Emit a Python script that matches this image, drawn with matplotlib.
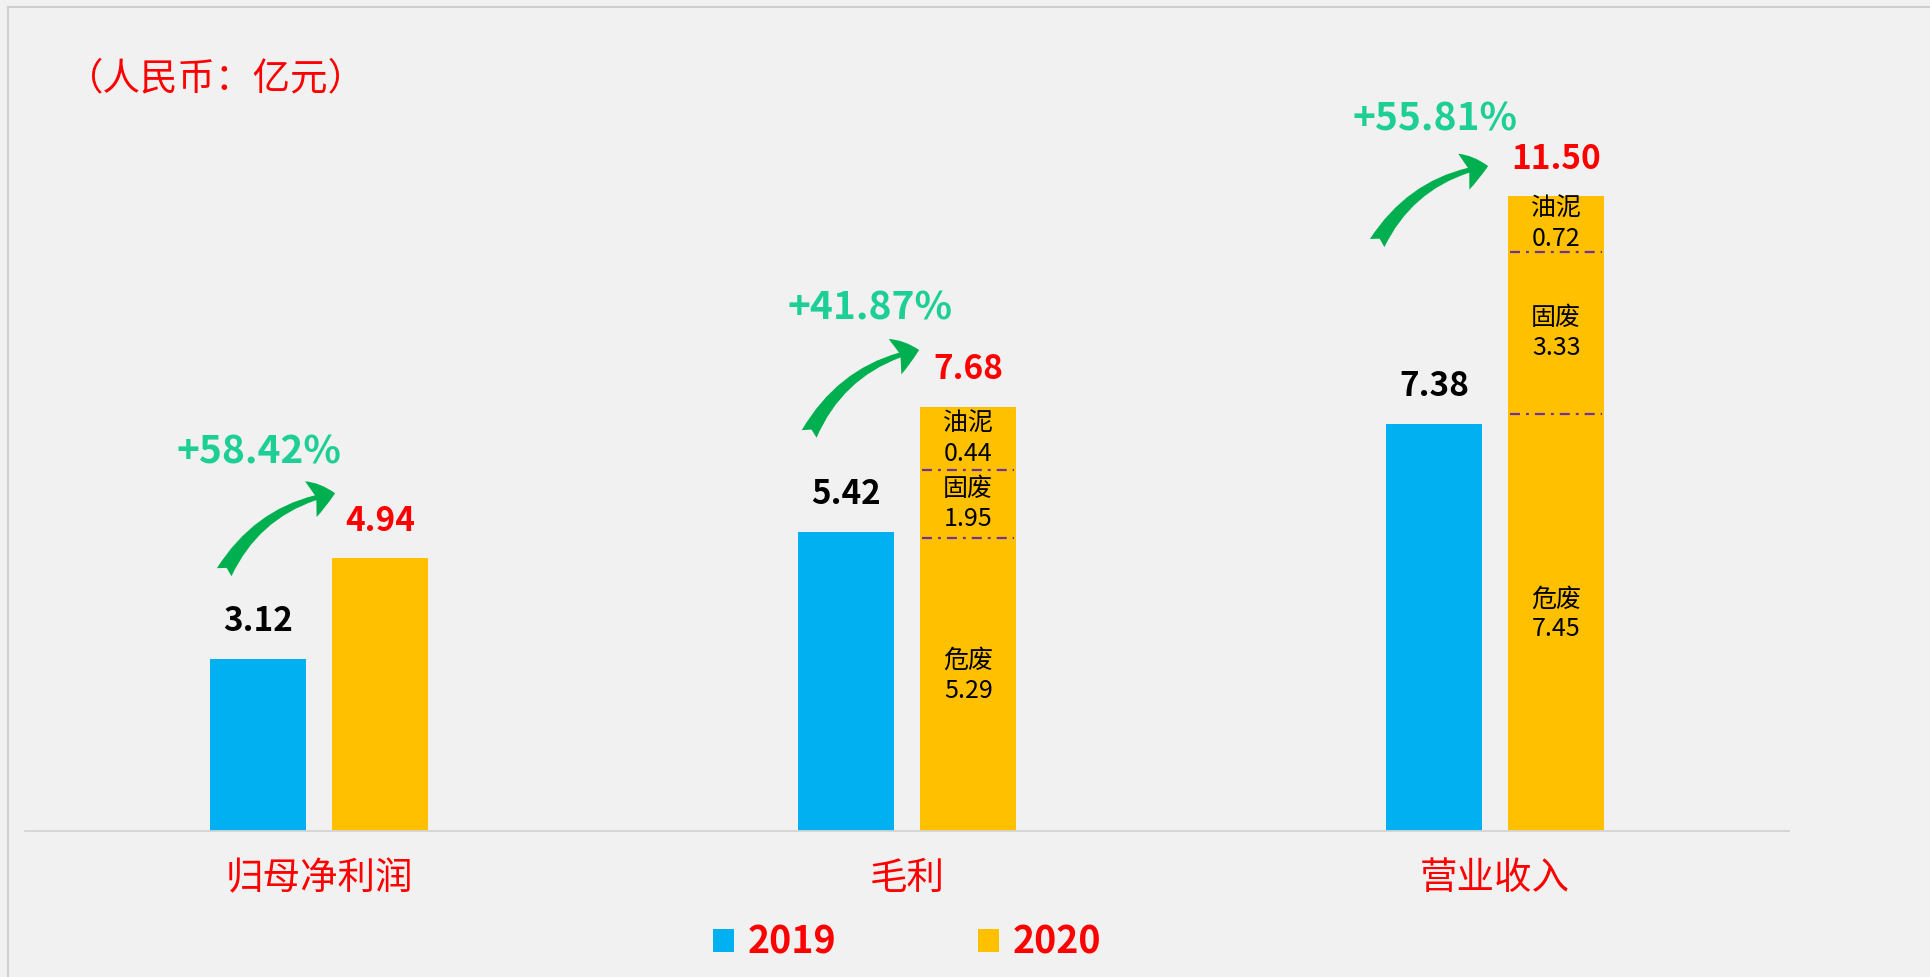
import matplotlib
matplotlib.use("Agg")
import matplotlib.pyplot as plt
from matplotlib.patches import Patch
from matplotlib.lines import Line2D
from matplotlib.transforms import offset_copy

plt.rcParams['font.family'] = ['Noto Sans CJK SC', 'DejaVu Sans']

# data
categories = ['归母净利润', '毛利', '营业收入']
values_2019 = [3.12, 5.42, 7.38]
values_2020 = [4.94, 7.68, 11.50]
growth = ['+58.42%', '+41.87%', '+55.81%']

# 2020 breakdown (毛利, 营业收入), bottom to top
seg_names = ['危废', '固废', '油泥']
seg_values = {1: [5.29, 1.95, 0.44], 2: [7.45, 3.33, 0.72]}
# divider levels as drawn in the picture
seg_levels = {1: [5.31, 6.53], 2: [7.55, 10.49]}

c2019 = '#00B0F0'
c2020 = '#FFC000'
red = '#FF0000'
teal = '#1DCF95'
green = '#00B050'
bg = '#F1F1F1'

fig = plt.figure(figsize=(19.31, 9.77), dpi=100, facecolor=bg)
ax = fig.add_axes([25 / 1931, 146 / 977, 1764 / 1931, 773 / 977])
ax.set_facecolor('none')
ax.set_xlim(-0.5, 2.5)
ax.set_ylim(0, 14)

w = 0.163
off = 0.104
x = list(range(len(categories)))
x19 = [i - off for i in x]
x20 = [i + off for i in x]
ax.bar(x19, values_2019, width=w, color=c2019, zorder=2)
ax.bar(x20, values_2020, width=w, color=c2020, zorder=2)

for spine in ['top', 'right', 'left']:
    ax.spines[spine].set_visible(False)
ax.spines['bottom'].set_color('#d4d4d4')
ax.spines['bottom'].set_linewidth(1.3)
ax.set_yticks([])
ax.set_xticks(x, categories)
ax.tick_params(axis='x', length=0, pad=20, labelsize=27, labelcolor=red)

# value labels on top of bars
for i in x:
    ax.annotate(f'{values_2019[i]:.2f}', (x19[i], values_2019[i]), xytext=(0, 37),
                textcoords='offset pixels', ha='center', va='center',
                fontsize=24, fontweight='bold', color='black')
    ax.annotate(f'{values_2020[i]:.2f}', (x20[i], values_2020[i]), xytext=(0, 37),
                textcoords='offset pixels', ha='center', va='center',
                fontsize=24, fontweight='bold', color=red)

# breakdown dividers and labels
for i, levels in seg_levels.items():
    edges = [0] + levels + [values_2020[i]]
    for lv in levels:
        ax.plot([x20[i] - w * 0.48, x20[i] + w * 0.48], [lv, lv], color='#7030A0',
                lw=1.6, linestyle=(0, (4.5, 2.7, 1.3, 2.7)), zorder=3)
    for k, name in enumerate(seg_names):
        ym = (edges[k] + edges[k + 1]) / 2
        if k == 0:
            ym += 0.15
        ax.text(x20[i], ym, f'{name}\n{seg_values[i][k]:.2f}', ha='center', va='center',
                fontsize=18, color='black', linespacing=1.2, zorder=4)

# growth labels and arrows (pixel offsets from the 2020 bar top)
pct_off = [(-121, 106), (-98, 99), (-121, 77)]
arrow_off = [((-156, -14), (-45, 65)), ((-159, -27), (-49, 57)), ((-179, -47), (-68, 30))]
for i in x:
    ax.annotate(growth[i], (x20[i], values_2020[i]), xytext=pct_off[i],
                textcoords='offset pixels', ha='center', va='center',
                fontsize=28, fontweight='bold', color=teal)
    (tx, ty), (hx, hy) = arrow_off[i]
    ax.annotate('', xy=(x20[i], values_2020[i]),
                xycoords=offset_copy(ax.transData, fig=fig, x=hx, y=hy, units='dots'),
                xytext=(x20[i], values_2020[i]),
                textcoords=offset_copy(ax.transData, fig=fig, x=tx, y=ty, units='dots'),
                arrowprops=dict(arrowstyle='fancy,head_length=18,head_width=27,tail_width=12',
                                connectionstyle='arc3,rad=-0.24', color=green,
                                mutation_scale=1, shrinkA=0, shrinkB=0, lw=0))

# unit note
fig.text(66 / 1931, 1 - 79 / 977, '（人民币：亿元）', fontsize=27, color=red,
         ha='left', va='center')

# legend
handles = [Patch(facecolor=c2019, label='2019'), Patch(facecolor=c2020, label='2020')]
fig.legend(handles=handles, loc='center', bbox_to_anchor=(907 / 1931, 1 - 942 / 977),
           ncol=2, frameon=False, labelcolor=red,
           prop={'size': 27, 'weight': 'bold'},
           handlelength=0.56, handleheight=0.56, handletextpad=0.35, columnspacing=3.8)

# slide frame
fig.add_artist(Line2D([8 / 1931, 8 / 1931], [0, 1 - 7 / 977], color='#cfcfcf', lw=1.5))
fig.add_artist(Line2D([8 / 1931, 1], [1 - 7 / 977, 1 - 7 / 977], color='#cfcfcf', lw=1.5))

fig.savefig('out.png', dpi=100, facecolor=bg)
